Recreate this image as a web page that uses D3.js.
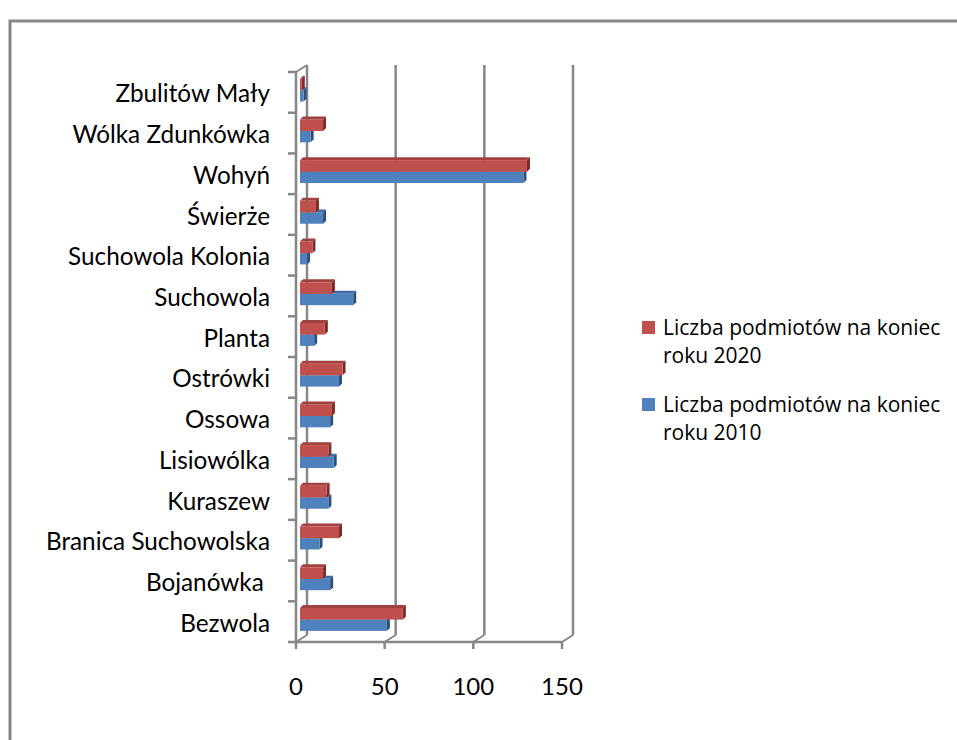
<!DOCTYPE html>
<html>
<head>
<meta charset="utf-8">
<script src="https://cdn.jsdelivr.net/npm/d3@7"></script>
<style>
  body { margin: 0; background: #fff; }
  svg { display: block; font-family: Lato, "Open Sans", sans-serif; }
</style>
</head>
<body>
<div id="chart"></div>
<script>
// categories, bottom to top as in the source sheet
const categories = ["Bezwola", "Bojanówka ", "Branica Suchowolska", "Kuraszew", "Lisiowólka",
  "Ossowa", "Ostrówki", "Planta", "Suchowola", "Suchowola Kolonia", "Świerże", "Wohyń",
  "Wólka Zdunkówka", "Zbulitów Mały"];
const values2010 = [49, 17, 11, 16, 19, 17, 22, 8, 30, 4, 13, 126, 6, 2];
const values2020 = [58, 13, 22, 15, 16, 18, 24, 14, 18, 7, 9, 128, 13, 1];
const xTicks = [0, 50, 100, 150];
const seriesNames = ["Liczba podmiotów na koniec roku 2020", "Liczba podmiotów na koniec roku 2010"];

const W = 957, H = 740;
const grid = "#878787";
const depth = { dx: 11, dy: -7 };   // back wall offset
const bar = { dx: 3, dy: -3 };      // bar extrusion

const data = categories.map((c, i) => ({ name: c, v2010: values2010[i], v2020: values2020[i] }));

const svg = d3.select("#chart").append("svg")
  .attr("width", W)
  .attr("height", H);

// outer frame
svg.append("rect")
  .attr("x", 10).attr("y", 21)
  .attr("width", W + 20).attr("height", H + 20)
  .attr("fill", "none")
  .attr("stroke", grid)
  .attr("stroke-width", 3);

const x = d3.scaleLinear().domain([0, 150]).range([296, 562]);
const y = d3.scaleBand()
  .domain(categories.slice().reverse())
  .range([72, 642]);

const x0 = x(0), yBot = 642, yTop = 72;

// back wall gridlines + floor diagonals
xTicks.forEach(t => {
  svg.append("line")
    .attr("x1", x(t) + depth.dx).attr("x2", x(t) + depth.dx)
    .attr("y1", yTop + depth.dy).attr("y2", yBot + depth.dy)
    .attr("stroke", grid).attr("stroke-width", 2.5);
  svg.append("line")
    .attr("x1", x(t)).attr("y1", yBot)
    .attr("x2", x(t) + depth.dx).attr("y2", yBot + depth.dy)
    .attr("stroke", grid).attr("stroke-width", 2);
});

// left wall top edge
svg.append("line")
  .attr("x1", x0).attr("y1", yTop)
  .attr("x2", x0 + depth.dx).attr("y2", yTop + depth.dy)
  .attr("stroke", grid).attr("stroke-width", 2);

// bars
const barOff = 4;
const bx = v => x(v) + barOff;

function drawBar(g, v, top, h, front, topC, side) {
  const xs = bx(0), xe = bx(v);
  g.append("polygon")
    .attr("points", [[xs, top], [xs + bar.dx, top + bar.dy], [xe + bar.dx, top + bar.dy], [xe, top]].join(" "))
    .attr("fill", topC);
  g.append("polygon")
    .attr("points", [[xe, top], [xe + bar.dx, top + bar.dy], [xe + bar.dx, top + h + bar.dy], [xe, top + h]].join(" "))
    .attr("fill", side);
  g.append("rect")
    .attr("x", xs).attr("y", top)
    .attr("width", Math.max(0, xe - xs)).attr("height", h)
    .attr("fill", front);
}

const bars = svg.append("g");
data.forEach(d => {
  const b = y(d.name);
  const g = bars.append("g");
  drawBar(g, d.v2010, b + 18.3, 11.3, "#4F81BD", "#3E6BA3", "#2C4E78");
  drawBar(g, d.v2020, b + 6.7, 11.6, "#C0504D", "#A0413E", "#7E2B29");
});

// category axis
svg.append("line")
  .attr("x1", x0).attr("x2", x0)
  .attr("y1", yTop).attr("y2", yBot)
  .attr("stroke", grid).attr("stroke-width", 2.5);
categories.concat([null]).forEach((c, i) => {
  const ty = yTop + i * y.step();
  svg.append("line")
    .attr("x1", x0 - 8).attr("x2", x0)
    .attr("y1", ty).attr("y2", ty)
    .attr("stroke", grid).attr("stroke-width", 2.5);
});

// value axis (front floor edge)
svg.append("line")
  .attr("x1", x0).attr("x2", x(150))
  .attr("y1", yBot).attr("y2", yBot)
  .attr("stroke", grid).attr("stroke-width", 2.5);
xTicks.forEach(t => {
  svg.append("line")
    .attr("x1", x(t)).attr("x2", x(t))
    .attr("y1", yBot).attr("y2", yBot + 7)
    .attr("stroke", grid).attr("stroke-width", 2.5);
  svg.append("text")
    .attr("x", x(t)).attr("y", 695)
    .attr("text-anchor", "middle")
    .attr("font-size", "24px")
    .attr("fill", "#000")
    .text(t);
});

// category labels
svg.append("g").selectAll("text")
  .data(data)
  .join("text")
  .attr("x", 270)
  .attr("y", d => y(d.name) + y.bandwidth() / 2 + 10)
  .attr("text-anchor", "end")
  .attr("font-size", "24.3px")
  .style("white-space", "pre")
  .attr("fill", "#000")
  .text(d => d.name);

// legend
const legend = [
  { name: seriesNames[0], color: "#C0504D", y: 321 },
  { name: seriesNames[1], color: "#4F81BD", y: 398 }
];
legend.forEach(l => {
  svg.append("rect")
    .attr("x", 642).attr("y", l.y)
    .attr("width", 13).attr("height", 13)
    .attr("fill", l.color);
  const words = l.name.split(" ");
  const t = svg.append("text")
    .attr("x", 663).attr("y", l.y + 14)
    .attr("font-family", "'Open Sans', sans-serif")
    .attr("font-size", "21px")
    .attr("fill", "#000");
  t.append("tspan").attr("x", 663).text(words.slice(0, 4).join(" "));
  t.append("tspan").attr("x", 663).attr("dy", 28).text(words.slice(4).join(" "));
});
</script>
</body>
</html>
